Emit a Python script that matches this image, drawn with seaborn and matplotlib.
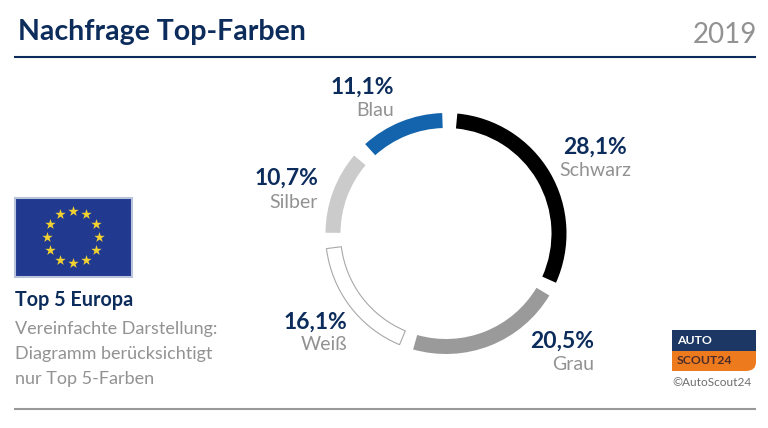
import numpy as np
import matplotlib
matplotlib.use("Agg")
import matplotlib.pyplot as plt
from matplotlib.patches import Rectangle, PathPatch
from matplotlib.path import Path
import seaborn as sns

# Stated values and names
colour_names = ["Schwarz", "Grau", "Weiß", "Silber", "Blau"]
value_labels = ["28,1%", "20,5%", "16,1%", "10,7%", "11,1%"]
ring_shares = [30.2, 20.8, 16.7, 11.1, 11.2]
ring_gaps = [1.9, 1.9, 2.1, 2.1, 2.0]
ring_colours = ["#000000", "#9a9a9a", "#ffffff", "#cbcbcb", "#1464ad"]

NAVY = "#0c2c5c"
GREY = "#929292"

sns.set_theme(style="white")
plt.rcParams["font.family"] = ["Lato", "DejaVu Sans"]

fig = plt.figure(figsize=(7.68, 4.28), dpi=100, facecolor="white")
W, H = 768, 428

bg = fig.add_axes([0, 0, 1, 1])
bg.set_xlim(0, W)
bg.set_ylim(H, 0)
bg.axis("off")

# Header and footer
bg.text(18, 32, "Nachfrage Top-Farben", fontsize=20.5, fontweight="bold", color=NAVY, va="center", ha="left")
bg.text(757, 35, "2019", fontsize=20, color=GREY, va="center", ha="right")
bg.plot([14, 756], [57, 57], color=NAVY, lw=1.5, solid_capstyle="butt")
bg.plot([14, 756], [408.5, 408.5], color="#999999", lw=1.5, solid_capstyle="butt")

# Ring
cx, cy, R, thick = 446, 233.5, 120.5, 15
ax = fig.add_axes([(cx - R - 1) / W, 1 - (cy + R + 1) / H, (2 * R + 2) / W, (2 * R + 2) / H])
sizes, cols = [], []
for share, gap, col in zip(ring_shares, ring_gaps, ring_colours):
    sizes += [share, gap]
    cols += [col, "none"]
wedges, _ = ax.pie(sizes, colors=cols, startangle=90 - 5.4, counterclock=False, radius=R,
                   wedgeprops=dict(width=thick, linewidth=0))
wedges[4].set_edgecolor("#a8a8a8")
wedges[4].set_linewidth(0.8)
ax.set_xlim(-R - 1, R + 1)
ax.set_ylim(-R - 1, R + 1)
ax.patch.set_alpha(0)

# Ring labels: (right edge of value, right edge of name, y of value, y of name)
label_pos = [(627, 631, 147, 171), (594, 594, 341, 365), (347, 347, 322, 345), (318, 318, 178, 202), (394, 394, 87, 110)]
for name, val, (xv, xn, yv, yn) in zip(colour_names, value_labels, label_pos):
    bg.text(xv, yv, val, fontsize=16.5, fontweight="bold", color=NAVY, ha="right", va="center")
    bg.text(xn, yn, name, fontsize=14, color=GREY, ha="right", va="center")

# Flag
bg.add_patch(Rectangle((14.5, 197.5), 117, 79, facecolor="#21398f", edgecolor="#b9c3dc", lw=1.5))
for a in np.arange(0, 360, 30):
    bg.scatter(73 + 26 * np.sin(np.radians(a)), 237 - 26 * np.cos(np.radians(a)),
               marker="*", s=62, color="#f2d230", linewidths=0, zorder=3)

# Left notes
bg.text(15, 300, "Top 5 Europa", fontsize=14.2, fontweight="bold", color=NAVY, va="center")
for y, line in zip([329, 354, 379], ["Vereinfachte Darstellung:", "Diagramm berücksichtigt", "nur Top 5-Farben"]):
    bg.text(15, y, line, fontsize=13, color=GREY, va="center")

# Logo
bg.add_patch(Rectangle((672, 330), 84, 21, facecolor="#1c3763", edgecolor="none"))
verts = [(672, 351), (756, 351), (756, 362), (756, 371), (746, 371), (672, 371), (672, 351)]
codes = [Path.MOVETO, Path.LINETO, Path.LINETO, Path.CURVE3, Path.CURVE3, Path.LINETO, Path.CLOSEPOLY]
bg.add_patch(PathPatch(Path(verts, codes), facecolor="#ee7a1e", edgecolor="none"))
bg.text(677, 340.5, "AUTO", fontsize=8.8, fontweight="bold", color="white", va="center")
bg.text(677, 361, "SCOUT24", fontsize=8.8, fontweight="bold", color="#4a2c2a", va="center")
bg.text(672, 383, "©AutoScout24", fontsize=8.6, color="#6e6e6e", va="center")

fig.savefig("out.png", dpi=100, facecolor="white")
